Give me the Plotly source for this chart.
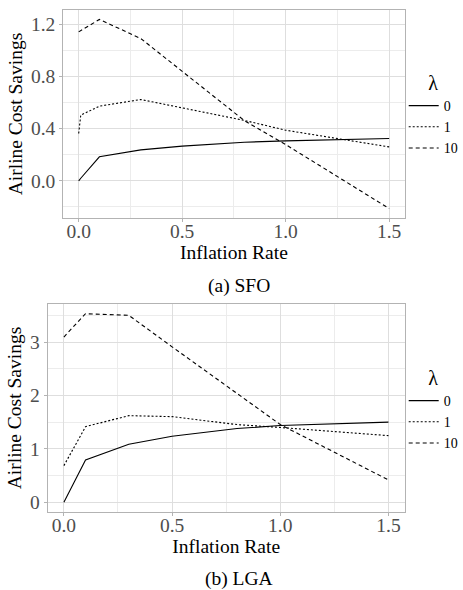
import plotly.graph_objects as go

# ---------------- data ----------------
inflation = [0, 0.01, 0.1, 0.3, 0.5, 0.8, 1.0, 1.5]

sfo_lambda0 = [0.0, 0.02, 0.184, 0.237, 0.266, 0.296, 0.306, 0.324]
sfo_lambda1 = [0.363, 0.503, 0.572, 0.623, 0.559, 0.463, 0.388, 0.26]
sfo_lambda10 = [1.141, 1.15, 1.236, 1.09, 0.837, 0.462, 0.278, -0.212]

lga_lambda0 = [0.0, 0.08, 0.792, 1.085, 1.235, 1.38, 1.436, 1.50]
lga_lambda1 = [0.686, 0.76, 1.416, 1.622, 1.603, 1.455, 1.40, 1.248]
lga_lambda10 = [3.094, 3.14, 3.53, 3.50, 2.91, 2.03, 1.455, 0.418]

lambda_labels = ["0", "1", "10"]
x_ticks = [0, 0.5, 1.0, 1.5]
sfo_y_ticks = [0.0, 0.4, 0.8, 1.2]
lga_y_ticks = [0, 1, 2, 3]
captions = ["(a) SFO", "(b) LGA"]
x_title = "Inflation Rate"
y_title = "Airline Cost Savings"

# ---------------- styling ----------------
W, H = 463, 590
FONT = "Liberation Serif"
dashes = ["solid", "2px,2px", "4px,3px"]
BORDER = "#b3b3b3"
GRID = "#dedede"
MINOR = "#ececec"
TICKCOL = "#4d4d4d"
FS = 19.5


def px_x(p):
    return p / W


def px_y(p):
    return 1 - p / H


fig = go.Figure()

panels = [
    ("x", "y", "legend", [sfo_lambda0, sfo_lambda1, sfo_lambda10]),
    ("x2", "y2", "legend2", [lga_lambda0, lga_lambda1, lga_lambda10]),
]
for xa, ya, leg, series in panels:
    for lab, vals, dsh in zip(lambda_labels, series, dashes):
        fig.add_trace(go.Scatter(
            x=inflation, y=vals, mode="lines", name=lab,
            xaxis=xa, yaxis=ya, legend=leg,
            line=dict(color="black", width=1.1, dash=dsh),
            showlegend=True,
        ))


def yrange(vals):
    lo = min(min(v) for v in vals)
    hi = max(max(v) for v in vals)
    pad = (hi - lo) * 0.05
    return [lo - pad, hi + pad]


xr = [min(inflation) - 0.05 * (max(inflation) - min(inflation)),
      max(inflation) + 0.05 * (max(inflation) - min(inflation))]

title_font = dict(family=FONT, size=FS, color="black")

common_axis = dict(
    showline=True, mirror=True, linecolor=BORDER, linewidth=1,
    showgrid=True, gridcolor=GRID, gridwidth=1.1,
    zeroline=False, ticks="outside", ticklen=3, tickcolor=BORDER,
    tickfont=dict(family=FONT, size=FS, color=TICKCOL),
)


def legend_cfg(ycenter):
    return dict(x=px_x(409), y=px_y(ycenter), xanchor="left", yanchor="middle",
                bgcolor="rgba(0,0,0,0)", font=dict(family=FONT, size=14, color="black"),
                title=dict(text="λ", side="top center",
                           font=dict(family=FONT, size=20, color="black")),
                itemwidth=30, tracegroupgap=0)


fig.update_layout(
    width=W, height=H,
    margin=dict(l=0, r=0, t=0, b=0),
    paper_bgcolor="white", plot_bgcolor="white",
    font=dict(family=FONT, color="black"),
    xaxis=dict(common_axis, domain=[px_x(64), px_x(410)], anchor="y",
               range=xr, tickvals=x_ticks, tickformat=".1f", ticklabelstandoff=-7,
               minor=dict(dtick=0.25, showgrid=True, gridcolor=MINOR, gridwidth=0.6, ticks=""),
               title=dict(text=x_title, standoff=0, font=title_font)),
    yaxis=dict(common_axis, domain=[px_y(218), px_y(10)], anchor="x",
               range=yrange([sfo_lambda0, sfo_lambda1, sfo_lambda10]),
               tickvals=sfo_y_ticks, tickformat=".1f",
               minor=dict(dtick=0.2, tick0=0, showgrid=True, gridcolor=MINOR, gridwidth=0.6, ticks=""),
               title=dict(text=y_title, standoff=3, font=title_font)),
    xaxis2=dict(common_axis, domain=[px_x(48.3), px_x(410)], anchor="y2",
                range=xr, tickvals=x_ticks, tickformat=".1f", ticklabelstandoff=-7,
                minor=dict(dtick=0.25, showgrid=True, gridcolor=MINOR, gridwidth=0.6, ticks=""),
                title=dict(text=x_title, standoff=0, font=title_font)),
    yaxis2=dict(common_axis, domain=[px_y(511.7), px_y(304.3)], anchor="x2",
                range=yrange([lga_lambda0, lga_lambda1, lga_lambda10]),
                tickvals=lga_y_ticks, tickformat="d",
                minor=dict(dtick=0.5, tick0=0, showgrid=True, gridcolor=MINOR, gridwidth=0.6, ticks=""),
                title=dict(text=y_title, standoff=3, font=title_font)),
    legend=legend_cfg(114),
    legend2=legend_cfg(409),
    annotations=[
        dict(text=captions[0], x=px_x(242), y=px_y(286), xref="paper", yref="paper",
             showarrow=False, xanchor="center", yanchor="middle",
             font=dict(family=FONT, size=FS, color="black")),
        dict(text=captions[1], x=px_x(242), y=px_y(579), xref="paper", yref="paper",
             showarrow=False, xanchor="center", yanchor="middle",
             font=dict(family=FONT, size=FS, color="black")),
    ],
)

# remove the default 8px page margin so the figure sits at the window origin
fig.write_html("out.html", config={"displayModeBar": False},
               post_script="document.body.style.margin='0px';")
